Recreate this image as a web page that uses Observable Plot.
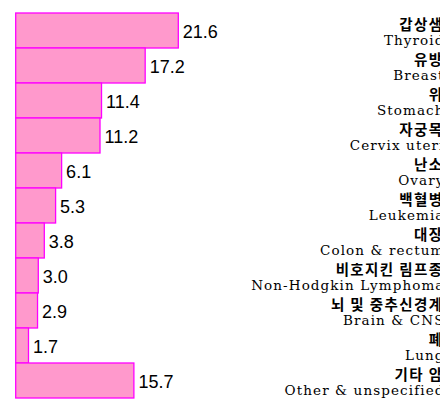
<!DOCTYPE html>
<html>
<head>
<meta charset="utf-8">
<script src="https://cdn.jsdelivr.net/npm/d3@7"></script>
<script src="https://cdn.jsdelivr.net/npm/@observablehq/plot@0.6"></script>
<style>
  html, body { margin: 0; padding: 0; background: white; overflow: hidden; }
</style>
</head>
<body>
<div id="chart"></div>
<script>
const labelsKo = ["갑상샘", "유방", "위", "자궁목", "난소", "백혈병", "대장", "비호지킨 림프종", "뇌 및 중추신경계", "폐", "기타 암"];
const labelsEn = ["Thyroid", "Breast", "Stomach", "Cervix uteri", "Ovary", "Leukemia", "Colon & rectum", "Non-Hodgkin Lymphoma", "Brain & CNS", "Lung", "Other & unspecified"];
const values = [21.6, 17.2, 11.4, 11.2, 6.1, 5.3, 3.8, 3.0, 2.9, 1.7, 15.7];

const data = labelsEn.map((en, i) => ({en, ko: labelsKo[i], value: values[i]}));

const svg = Plot.plot({
  width: 440,
  height: 403,
  marginTop: 0,
  marginBottom: 0,
  marginLeft: 0,
  marginRight: 0,
  style: {background: "white"},
  x: {domain: [0, 21.6], range: [15.7, 178.3], axis: null},
  y: {domain: labelsEn, range: [8.3, 403.6], padding: 0, axis: null},
  marks: [
    Plot.barX(data, {x: "value", y: "en", fill: "#FF99CC", stroke: "#FF00FF", strokeWidth: 1.3}),
    Plot.text(data, {x: "value", y: "en", text: d => d.value.toFixed(1), textAnchor: "start", dx: 4, dy: 1, fontSize: 18, fontFamily: "Liberation Sans, Arial, sans-serif", fill: "black"}),
    Plot.text(data, {y: "en", frameAnchor: "right", text: "ko", textAnchor: "end", dx: 3, dy: -6, fontSize: 14.5, fontWeight: "bold", fontFamily: "Noto Sans CJK KR", fill: "black"}),
    Plot.text(data, {y: "en", frameAnchor: "right", text: "en", textAnchor: "end", dx: 4, dy: 10, fontSize: 13.5, fontFamily: "DejaVu Serif", fill: "black"})
  ]
});
svg.querySelectorAll('g[font-family="DejaVu Serif"]').forEach(g => g.setAttribute("letter-spacing", "1.1"));
svg.querySelectorAll('g[font-family="Noto Sans CJK KR"]').forEach(g => g.setAttribute("letter-spacing", "1.4"));
document.getElementById("chart").appendChild(svg);
</script>
</body>
</html>
